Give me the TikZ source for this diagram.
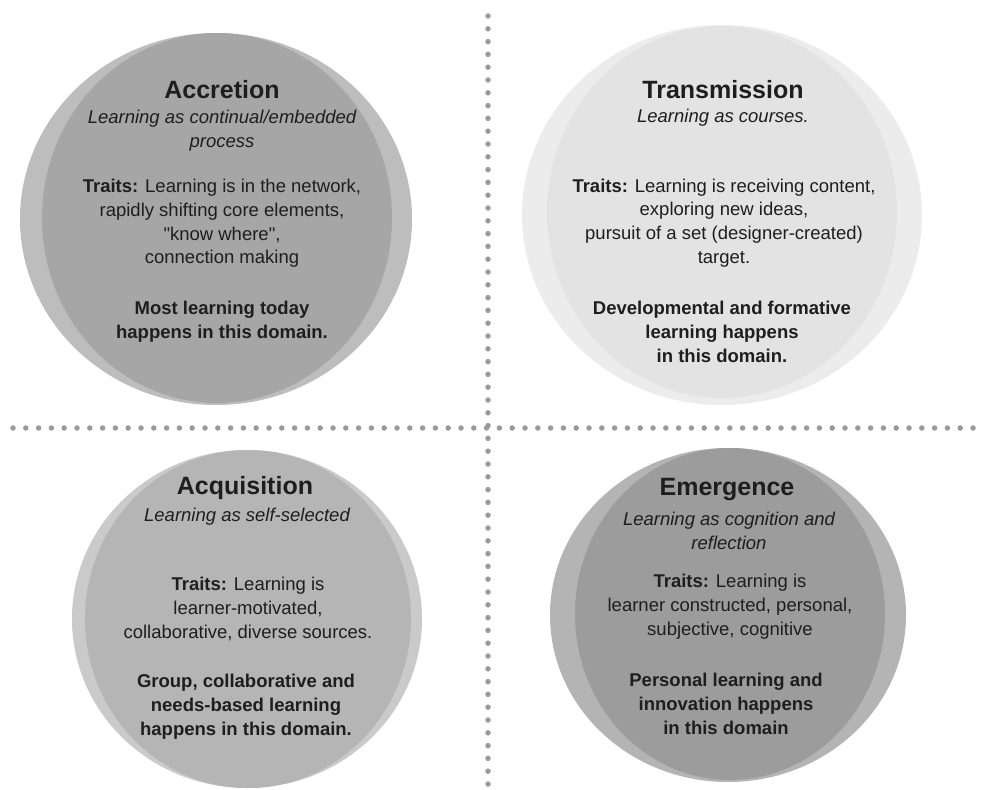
\documentclass[tikz,border=0pt]{standalone}
\usepackage{fontspec}
\setmainfont{Liberation Sans}
\newcommand{\sq}{\XeTeXglyph\XeTeXcharglyph"22\relax}
\definecolor{dotc}{HTML}{9A9A9A}
\definecolor{txt}{HTML}{1E1E1E}
\definecolor{accO}{HTML}{BDBDBD}
\definecolor{accI}{HTML}{A6A6A6}
\definecolor{traO}{HTML}{ECECEC}
\definecolor{traI}{HTML}{E3E3E3}
\definecolor{acqO}{HTML}{CACACA}
\definecolor{acqI}{HTML}{B5B5B5}
\definecolor{emeO}{HTML}{B4B4B4}
\definecolor{emeI}{HTML}{9C9C9C}
\tikzset{
  ttl/.style={text=txt, font=\fontsize{25}{30}\selectfont\bfseries, inner sep=0pt},
  sub/.style={text=txt, font=\fontsize{18.5}{24}\selectfont\itshape, align=center, inner sep=0pt},
  body/.style={text=txt, font=\fontsize{18.5}{23.8}\selectfont, align=center, inner sep=0pt},
  strong/.style={text=txt, font=\fontsize{18.5}{23.8}\selectfont\bfseries, align=center, inner sep=0pt},
  dotline/.style={draw=dotc, line width=5.5pt, line cap=round, dash pattern=on 0pt off 12.8pt}
}
\begin{document}
\begin{tikzpicture}[x=1pt,y=-1pt]
\useasboundingbox[fill=white] (0,0) rectangle (981,789);
% divider lines
\coordinate (vtop) at (488,16);
\coordinate (vbot) at (488,792);
\coordinate (hl) at (13,428);
\coordinate (hr) at (981,428);
\draw[dotline] (vtop) -- (vbot);
\draw[dotline] (hl) -- (hr);
% circles
\fill[accO] (216,219) ellipse [x radius=196pt, y radius=186pt];
\fill[accI] (217,218) ellipse [x radius=175pt, y radius=185pt];
\fill[traO] (722,215) ellipse [x radius=200pt, y radius=190pt];
\fill[traI] (722,212) ellipse [x radius=175pt, y radius=186pt];
\fill[acqO] (247,619) ellipse [x radius=175pt, y radius=169pt];
\fill[acqI] (248,619) ellipse [x radius=163pt, y radius=169pt];
\fill[emeO] (728,615) ellipse [x radius=178pt, y radius=167pt];
\fill[emeI] (730,614) ellipse [x radius=155pt, y radius=166pt];
% Accretion
\node[ttl] (accT) at (222,90) {Accretion};
\node[sub] (accS) at (222,130.5) {Learning as continual/embedded\\process};
\node[body] (accB) at (222,223.5) {\textbf{Traits:} Learning is in the network,\\rapidly shifting core elements,\\\sq know where\sq,\\connection making};
\node[strong] (accD) at (222,321.5) {Most learning today\\happens in this domain.};
% Transmission
\node[ttl] (traT) at (723,90) {Transmission};
\node[sub] (traS) at (723,118) {Learning as courses.};
\node[body] (traB) at (724,223) {\textbf{Traits:} Learning is receiving content,\\exploring new ideas,\\pursuit of a set (designer-created)\\target.};
\node[strong] (traD) at (722,332) {Developmental and formative\\learning happens\\in this domain.};
% Acquisition
\node[ttl] (acqT) at (245,488) {Acquisition};
\node[sub] (acqS) at (247,517) {Learning as self-selected};
\node[body] (acqB) at (248,609) {\textbf{Traits:} Learning is\\learner-motivated,\\collaborative, diverse sources.};
\node[strong] (acqD) at (246,707) {Group, collaborative and\\needs-based learning\\happens in this domain.};
% Emergence
\node[ttl] (emeT) at (727,490) {Emergence};
\node[sub] (emeS) at (729,531) {Learning as cognition and\\reflection};
\node[body] (emeB) at (730,607) {\textbf{Traits:} Learning is\\learner constructed, personal,\\subjective, cognitive};
\node[strong] (emeD) at (726,704) {Personal learning and\\innovation happens\\in this domain};
\end{tikzpicture}
\end{document}
